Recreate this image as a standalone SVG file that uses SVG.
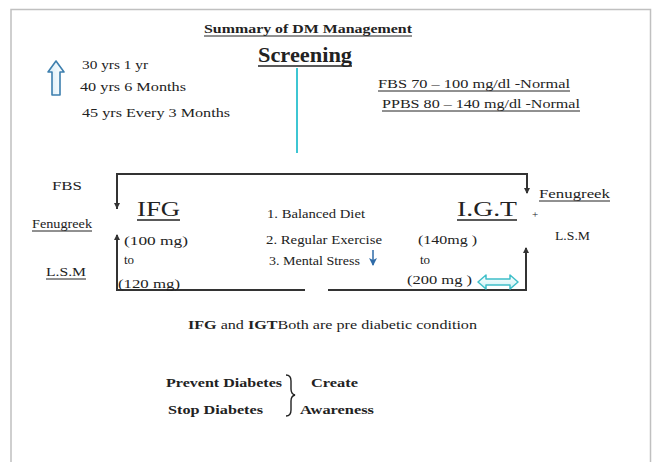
<svg xmlns="http://www.w3.org/2000/svg" width="653" height="462" viewBox="0 0 653 462">
<style>
text{font-family:"Liberation Serif","Times New Roman",serif;fill:#222;}
.t13{font-size:13px;}
.t12{font-size:12px;}
.b{font-weight:bold;}
.ul{stroke:#222;stroke-width:1;}
.conn{stroke:#333;stroke-width:2;fill:none;}
</style>
<defs>
<marker id="ah" markerWidth="6" markerHeight="6" refX="5" refY="3" orient="auto" markerUnits="userSpaceOnUse">
<path d="M0,0 L6,3 L0,6 z" fill="#333"/>
</marker>
<marker id="bh" markerWidth="8" markerHeight="8" refX="7" refY="4" orient="auto" markerUnits="userSpaceOnUse">
<path d="M0,0 L8,4 L0,8 L2,4 z" fill="#2f6ba8"/>
</marker>
<linearGradient id="ag" x1="0" y1="0" x2="1" y2="0">
<stop offset="0" stop-color="#d8ecf7"/>
<stop offset="1" stop-color="#ffffff"/>
</linearGradient>
<linearGradient id="cg" x1="0" y1="0" x2="0" y2="1">
<stop offset="0" stop-color="#ffffff"/>
<stop offset="1" stop-color="#c9f1f4"/>
</linearGradient>
</defs>
<rect x="0" y="0" width="653" height="462" fill="#fff"/>
<rect x="11" y="9.5" width="639.5" height="460" fill="none" stroke="#c0c0c0" stroke-width="1.5"/>

<g id="title">
<text x="204" y="33" class="t13 b" textLength="208" lengthAdjust="spacingAndGlyphs">Summary of DM Management</text>
<line x1="204" y1="36" x2="412" y2="36" class="ul"/>
</g>
<g id="screening">
<text x="258" y="62" style="font-size:20px" class="b" textLength="94" lengthAdjust="spacingAndGlyphs">Screening</text>
<line x1="258" y1="66" x2="352" y2="66" stroke="#222" stroke-width="1.5"/>
</g>

<g id="age-arrow">
<path d="M56,61 L64,72 L60,72 L60,95 L52,95 L52,72 L48,72 Z" fill="url(#ag)" stroke="#3d7fae" stroke-width="1.6" stroke-linejoin="round"/>
</g>
<g id="age-text">
<text x="82" y="69" class="t13" textLength="66" lengthAdjust="spacingAndGlyphs">30 yrs 1 yr</text>
<text x="80" y="91" class="t13" textLength="106" lengthAdjust="spacingAndGlyphs">40 yrs 6 Months</text>
<text x="82" y="117" class="t13" textLength="148" lengthAdjust="spacingAndGlyphs">45 yrs Every 3 Months</text>
</g>

<g id="normal-values">
<text x="378" y="88" class="t13" textLength="192" lengthAdjust="spacingAndGlyphs">FBS  70 – 100 mg/dl  -Normal</text>
<line x1="378" y1="91" x2="570" y2="91" class="ul"/>
<text x="382" y="108" class="t13" textLength="198" lengthAdjust="spacingAndGlyphs">PPBS  80 – 140 mg/dl -Normal</text>
<line x1="382" y1="111" x2="580" y2="111" class="ul"/>
</g>

<g id="left-labels">
<text x="52" y="190" class="t12" textLength="30" lengthAdjust="spacingAndGlyphs">FBS</text>
<text x="32" y="228" class="t12" textLength="60" lengthAdjust="spacingAndGlyphs">Fenugreek</text>
<line x1="32" y1="231" x2="92" y2="231" class="ul"/>
<text x="46" y="276" class="t12" textLength="40" lengthAdjust="spacingAndGlyphs">L.S.M</text>
<line x1="46" y1="279" x2="86" y2="279" class="ul"/>
</g>

<g id="connectors">
<line x1="297" y1="68" x2="297" y2="153" stroke="#3ec6d3" stroke-width="2"/>
<path d="M117,209 L117,174 L527,174 L527,192" class="conn"/>
<path d="M117,174 L117,208" class="conn" marker-end="url(#ah)"/>
<path d="M527,180 L527,193" class="conn" marker-end="url(#ah)"/>
<path d="M305,290 L117,290 L117,235" class="conn" marker-end="url(#ah)"/>
<path d="M328,290 L526,290 L526,248" class="conn" marker-end="url(#ah)"/>
</g>

<g id="ifg">
<text x="137" y="216" style="font-size:22px" textLength="43" lengthAdjust="spacingAndGlyphs">IFG</text>
<line x1="137" y1="220" x2="180" y2="220" stroke="#222" stroke-width="1.3"/>
<text x="124" y="245" class="t13" textLength="64" lengthAdjust="spacingAndGlyphs">(100 mg)</text>
<text x="124" y="264" class="t13">to</text>
<text x="118" y="288" class="t13" textLength="62" lengthAdjust="spacingAndGlyphs">(120 mg)</text>
</g>

<g id="measures">
<text x="267" y="218" class="t12" textLength="98" lengthAdjust="spacingAndGlyphs">1. Balanced Diet</text>
<text x="266" y="244" class="t12" textLength="116" lengthAdjust="spacingAndGlyphs">2. Regular Exercise</text>
<text x="269" y="265" class="t12" textLength="91" lengthAdjust="spacingAndGlyphs">3. Mental Stress</text>
<line x1="373" y1="250" x2="373" y2="265" stroke="#2f6ba8" stroke-width="1.5" marker-end="url(#bh)"/>
</g>

<g id="igt">
<text x="457" y="216" style="font-size:22px" textLength="60" lengthAdjust="spacingAndGlyphs">I.G.T</text>
<line x1="457" y1="220" x2="517" y2="220" stroke="#222" stroke-width="1.3"/>
<text x="532" y="218" style="font-size:11px">+</text>
<text x="418" y="244" class="t13" textLength="59" lengthAdjust="spacingAndGlyphs">(140mg )</text>
<text x="420" y="264" class="t13">to</text>
<text x="407" y="284" class="t13" textLength="65" lengthAdjust="spacingAndGlyphs">(200 mg )</text>
<path d="M478,282 L486,275 L486,279 L510,279 L510,275 L518,282 L510,289 L510,285 L486,285 L486,289 Z" fill="url(#cg)" stroke="#3fbfc9" stroke-width="1.5" stroke-linejoin="round"/>
</g>

<g id="right-labels">
<text x="539" y="198" class="t12" textLength="71" lengthAdjust="spacingAndGlyphs">Fenugreek</text>
<line x1="539" y1="201" x2="610" y2="201" class="ul"/>
<text x="555" y="240" class="t12" textLength="35" lengthAdjust="spacingAndGlyphs">L.S.M</text>
</g>

<g id="note">
<text x="188" y="329" class="t13" textLength="289" lengthAdjust="spacingAndGlyphs"><tspan class="b">IFG</tspan> and <tspan class="b">IGT</tspan>Both are pre diabetic condition</text>
</g>

<g id="awareness">
<text x="166" y="387" class="t13 b" textLength="116" lengthAdjust="spacingAndGlyphs">Prevent Diabetes</text>
<text x="311" y="387" class="t13 b" textLength="47" lengthAdjust="spacingAndGlyphs">Create</text>
<text x="168" y="414" class="t13 b" textLength="95" lengthAdjust="spacingAndGlyphs">Stop Diabetes</text>
<text x="300" y="414" class="t13 b" textLength="74" lengthAdjust="spacingAndGlyphs">Awareness</text>
<path d="M286,375 Q291,375 291,381 L291,389 Q291,394 295,395 Q291,396 291,401 L291,410 Q291,416 286,416" fill="none" stroke="#222" stroke-width="1.4"/>
</g>
</svg>
